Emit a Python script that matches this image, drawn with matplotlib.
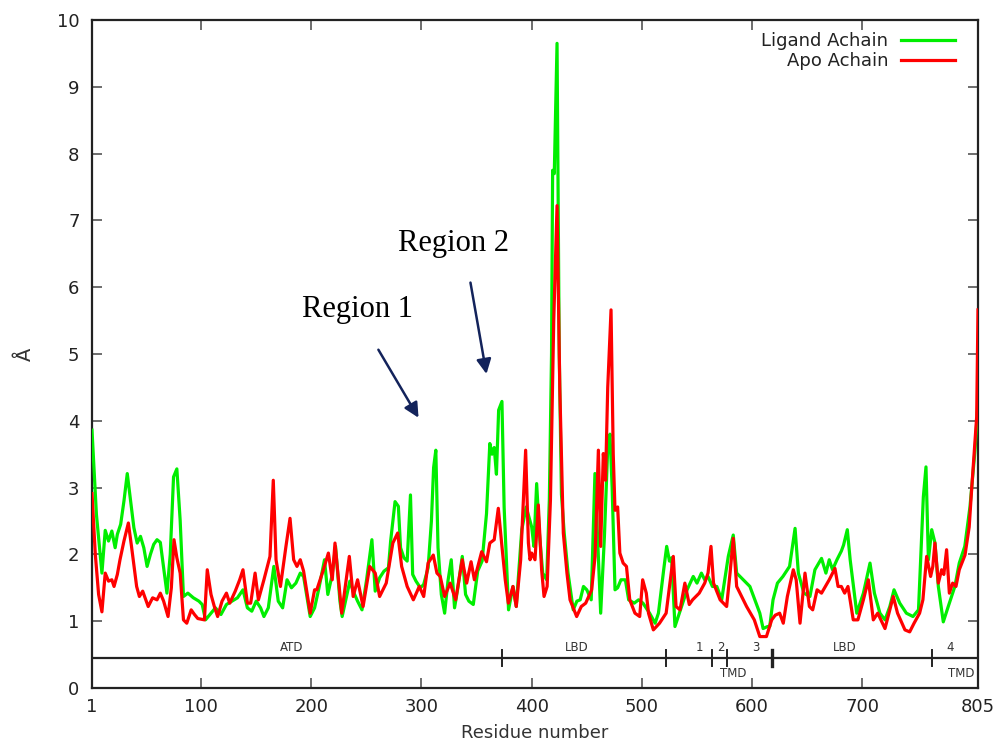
import matplotlib
matplotlib.use("Agg")
import matplotlib.pyplot as plt

# RMSF-like traces (residue, value in Angstrom)
ligand_res = [1, 5, 10, 13, 16, 19, 22, 24, 27, 30, 33, 36, 39, 42, 45, 48, 51, 54, 57, 60,
              63, 66, 69, 72, 75, 78, 81, 84, 88, 93, 98, 101, 104, 108, 113, 118, 123, 128,
              133, 138, 142, 146, 150, 154, 157, 161, 166, 170, 174, 178, 182, 186, 190, 193,
              199, 203, 207, 212, 215, 219, 222, 226, 228, 231, 235, 238, 242, 246, 250, 255,
              258, 262, 266, 270, 272, 276, 279, 281, 284, 287, 290, 292, 295, 299, 302, 306,
              309, 311, 313, 315, 318, 321, 324, 327, 330, 333, 337, 340, 343, 347, 351, 355,
              359, 362, 364, 366, 368, 370, 373, 375, 379, 383, 386, 391, 395, 400, 402, 404.5,
              407, 410, 413.6, 416, 418, 419, 420.5, 423, 425, 427, 429.5, 433, 437.7, 441, 444,
              447, 450, 454, 457.4, 460, 462.6, 466, 469, 471, 473, 475.6, 478, 481, 485, 488,
              493, 497, 501, 505, 507, 512, 515, 520, 522.5, 525, 527, 530, 533, 536, 541, 546.6,
              550, 554, 557, 560, 564, 568, 572.4, 578.4, 582.9, 586, 592, 598, 603, 607, 610,
              614, 616, 619, 623, 628, 634, 639, 642, 647, 652.5, 657, 663, 667, 670, 673, 677,
              681, 683, 686.4, 689, 695, 701, 707, 711, 716, 720.6, 725, 728.8, 734, 740, 746,
              751, 755.4, 757.8, 760, 763, 766, 769, 773.5, 778, 784, 788, 793, 797.7, 802.3, 805]
ligand_val = [3.86, 2.6, 1.72, 2.36, 2.2, 2.35, 2.1, 2.3, 2.45, 2.8, 3.21, 2.8, 2.4, 2.17, 2.27,
              2.1, 1.82, 2.0, 2.15, 2.22, 2.18, 1.8, 1.42, 2.0, 3.16, 3.28, 2.51, 1.37, 1.42, 1.35,
              1.3, 1.25, 1.02, 1.1, 1.2, 1.1, 1.25, 1.3, 1.35, 1.47, 1.2, 1.15, 1.3, 1.2, 1.07,
              1.2, 1.82, 1.3, 1.2, 1.62, 1.5, 1.57, 1.72, 1.67, 1.07, 1.2, 1.5, 1.92, 1.4, 1.7,
              2.12, 1.3, 1.07, 1.3, 1.6, 1.45, 1.3, 1.17, 1.6, 2.22, 1.45, 1.65, 1.75, 1.8, 2.2,
              2.79, 2.72, 2.1, 1.95, 1.9, 2.89, 1.7, 1.6, 1.5, 1.55, 1.8, 2.5, 3.3, 3.56, 2.1,
              1.4, 1.12, 1.6, 1.92, 1.2, 1.5, 1.97, 1.4, 1.3, 1.25, 1.75, 1.9, 2.61, 3.66, 3.5,
              3.6, 3.2, 4.16, 4.29, 2.7, 1.17, 1.52, 1.22, 2.37, 2.71, 2.41, 2.12, 3.06, 2.32,
              1.72, 1.62, 2.81, 5.0, 7.75, 7.7, 9.65, 5.0, 2.9, 2.32, 1.72, 1.17, 1.3, 1.32, 1.52,
              1.47, 1.32, 3.21, 2.17, 1.12, 2.27, 3.6, 3.8, 3.0, 1.47, 1.5, 1.62, 1.62, 1.32,
              1.27, 1.32, 1.27, 1.17, 1.12, 0.97, 1.12, 1.8, 2.12, 1.9, 1.95, 0.92, 1.07, 1.22,
              1.47, 1.67, 1.57, 1.72, 1.62, 1.67, 1.52, 1.52, 1.32, 1.97, 2.29, 1.72, 1.62, 1.52,
              1.3, 1.12, 0.89, 0.92, 0.92, 1.32, 1.57, 1.67, 1.82, 2.39, 1.72, 1.42, 1.37, 1.77,
              1.94, 1.72, 1.92, 1.77, 1.92, 2.05, 2.14, 2.37, 1.92, 1.12, 1.42, 1.87, 1.42, 1.12,
              1.02, 1.22, 1.47, 1.27, 1.12, 1.07, 1.17, 2.86, 3.31, 1.92, 2.37, 2.17, 1.52, 0.99,
              1.22, 1.52, 1.87, 2.12, 2.71, 3.56, 4.3]

apo_res = [1, 4, 7, 10, 13, 16, 19, 21, 24, 26.4, 30, 34, 37, 41.5, 44, 47, 52, 56, 60, 63, 66,
           70, 73, 75.4, 78, 81, 84, 87, 91, 94, 97, 103, 105.6, 109, 112, 115, 119, 123, 126,
           131, 135, 138, 142, 145, 149, 152, 157, 162.5, 165.5, 168, 172, 177, 180.7, 184, 187,
           190, 193, 199, 203, 205, 211, 215.5, 219, 221.5, 227.6, 234.5, 238, 242, 247, 253,
           258, 262, 268, 274, 278.4, 282, 287, 292.6, 298, 302, 306, 310.7, 314, 317, 321, 326,
           331, 337, 341, 345, 348, 354.6, 359, 362, 366, 369.7, 373, 376, 378.8, 383, 386, 390,
           394.5, 397, 398.5, 400, 403, 406, 409, 411.2, 414, 417, 420, 423, 425.5, 428.7, 432,
           434.8, 440.8, 445, 449, 454.4, 457.5, 460.5, 462.6, 465, 467, 469, 472, 474, 475.6,
           478, 480, 483, 486, 489, 493.7, 498, 500.7, 504, 506, 510.4, 516, 522, 528.5, 531,
           534.6, 539, 543, 546, 552, 557, 560, 562.7, 565, 571, 576.9, 580, 582.9, 586, 595,
           602, 607, 613, 617.8, 621, 625, 628.3, 632, 637.4, 640, 643.5, 648, 652, 655, 659,
           663, 670, 675.2, 678, 681, 684, 687, 691.8, 696, 701, 705.5, 710, 714, 720.6, 725,
           728.1, 732, 738.7, 743, 747, 752, 755, 758.4, 762, 764, 765.9, 769, 772, 774, 776.5,
           779, 782, 785, 788, 793.2, 797, 799.3, 803.8, 805]
apo_val = [2.91, 2.0, 1.4, 1.14, 1.72, 1.6, 1.62, 1.52, 1.7, 1.92, 2.2, 2.47, 2.1, 1.52, 1.37,
           1.45, 1.22, 1.35, 1.32, 1.42, 1.3, 1.07, 1.5, 2.22, 1.95, 1.72, 1.02, 0.97, 1.17, 1.1,
           1.04, 1.02, 1.77, 1.4, 1.22, 1.07, 1.3, 1.42, 1.27, 1.45, 1.62, 1.77, 1.27, 1.27, 1.72,
           1.32, 1.62, 1.97, 3.11, 1.92, 1.52, 2.12, 2.54, 1.92, 1.82, 1.92, 1.75, 1.12, 1.47,
           1.47, 1.77, 2.02, 1.62, 2.17, 1.12, 1.97, 1.37, 1.62, 1.22, 1.82, 1.72, 1.37, 1.57,
           2.17, 2.32, 1.82, 1.52, 1.32, 1.52, 1.37, 1.87, 1.99, 1.72, 1.67, 1.37, 1.57, 1.32,
           1.92, 1.57, 1.89, 1.62, 2.04, 1.89, 2.17, 2.22, 2.69, 2.12, 1.62, 1.27, 1.52, 1.22,
           1.92, 3.56, 2.17, 1.92, 2.02, 1.92, 2.74, 1.77, 1.37, 1.52, 2.81, 5.5, 7.22, 4.5,
           2.32, 1.72, 1.32, 1.07, 1.22, 1.27, 1.47, 1.97, 3.56, 2.12, 3.51, 3.11, 4.5, 5.66,
           3.5, 2.66, 2.71, 2.02, 1.87, 1.82, 1.32, 1.12, 1.07, 1.62, 1.42, 1.12, 0.87, 0.97,
           1.12, 1.97, 1.22, 1.17, 1.57, 1.25, 1.32, 1.42, 1.57, 1.72, 2.12, 1.57, 1.32, 1.22,
           1.72, 2.24, 1.52, 1.22, 1.02, 0.77, 0.77, 1.02, 1.09, 1.12, 0.97, 1.37, 1.77, 1.62,
           0.97, 1.72, 1.22, 1.17, 1.47, 1.42, 1.62, 1.79, 1.52, 1.52, 1.42, 1.52, 1.02, 1.02,
           1.32, 1.62, 1.02, 1.12, 0.89, 1.17, 1.37, 1.12, 0.87, 0.84, 0.97, 1.12, 1.32, 1.97,
           1.67, 1.82, 2.17, 1.57, 1.77, 1.7, 2.07, 1.42, 1.57, 1.52, 1.77, 1.99, 2.41, 2.99,
           4.06, 5.66]

# domain bar along the bottom
domain_bounds = [373, 522, 564, 577, 618, 763]
domain_above = ["ATD", "LBD", "1", "2", "3", "LBD", "4"]
domain_above_pos = [182, 441, 552, 572, 603, 684, 780]
domain_below = ["TMD", "TMD"]
domain_below_pos = [583, 790]

xticks = [1, 100, 200, 300, 400, 500, 600, 700, 805]

fig = plt.figure(figsize=(9.94, 7.49), dpi=100)
ax = fig.add_axes([92 / 994, 61 / 749, 886 / 994, 668 / 749])

ax.plot(ligand_res, ligand_val, color="#00ee00", lw=2.3, label="Ligand Achain", zorder=3)
ax.plot(apo_res, apo_val, color="#ff0000", lw=2.3, label="Apo Achain", zorder=4)

ax.set_xlim(1, 805)
ax.set_ylim(0, 10)
ax.set_xticks(xticks)
ax.set_yticks(range(0, 11))
ax.tick_params(direction="in", length=7, width=1.2, color="#555555", top=True, right=True,
               labelsize=13, labelcolor="#222222")
ax.tick_params(axis="y", pad=9)
ax.tick_params(axis="x", pad=7)
for s in ax.spines.values():
    s.set_linewidth(1.6)
    s.set_color("#222222")

ax.set_xlabel("Residue number", fontsize=13, color="#333333", labelpad=6)
ax.set_ylabel("Å", fontsize=14, color="#333333", labelpad=16)

# domain bar
bar_y = 0.45
ax.axhline(bar_y, color="#222222", lw=1.6, zorder=2)
for b in domain_bounds:
    ax.plot([b, b], [bar_y - 0.12, bar_y + 0.12], color="#222222",
            lw=2.4 if b == 618 else 1.4, zorder=2)
for name, p in zip(domain_above, domain_above_pos):
    ax.text(p, bar_y + 0.16, name, ha="center", va="center", fontsize=8.5, color="#333333")
for name, p in zip(domain_below, domain_below_pos):
    ax.text(p, bar_y - 0.24, name, ha="center", va="center", fontsize=8.5, color="#333333")

# region annotations
navy = "#13235b"
ax.annotate("", xy=(298.6, 4.01), xytext=(259.6, 5.10),
            arrowprops=dict(arrowstyle="-|>", color=navy, lw=1.8, mutation_scale=22))
ax.annotate("", xy=(359.4, 4.66), xytext=(344.0, 6.11),
            arrowprops=dict(arrowstyle="-|>", color=navy, lw=1.8, mutation_scale=22))
ax.text(241.5, 5.67, "Region 1", ha="center", va="center", fontsize=22,
        family="Liberation Serif", color="black")
ax.text(328.6, 6.66, "Region 2", ha="center", va="center", fontsize=22,
        family="Liberation Serif", color="black")

leg = ax.legend(loc="upper right", bbox_to_anchor=(0.974, 0.982), frameon=False,
                markerfirst=False, handlelength=3.0, handletextpad=0.7,
                labelspacing=0.1, fontsize=13, borderaxespad=0, borderpad=0)
for t in leg.get_texts():
    t.set_color("#222222")

fig.savefig("out.png", dpi=100)
